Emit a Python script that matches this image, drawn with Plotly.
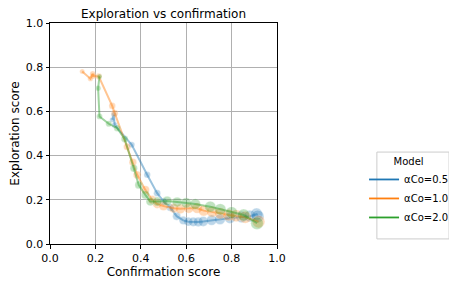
import numpy as np
import plotly.graph_objects as go

# ---- data ----
series_names = ["αCo=0.5", "αCo=1.0", "αCo=2.0"]

blue_x = [0.274, 0.281, 0.285, 0.360, 0.428, 0.472, 0.501, 0.530, 0.558, 0.587, 0.609,
          0.631, 0.653, 0.675, 0.712, 0.749, 0.793, 0.844, 0.881, 0.910, 0.915]
blue_y = [0.562, 0.585, 0.539, 0.449, 0.313, 0.230, 0.192, 0.165, 0.126, 0.107, 0.101,
          0.100, 0.100, 0.102, 0.108, 0.112, 0.118, 0.122, 0.126, 0.135, 0.125]

orange_x = [0.142, 0.178, 0.188, 0.190, 0.215, 0.274, 0.285, 0.340, 0.365, 0.384, 0.420,
            0.450, 0.472, 0.500, 0.545, 0.574, 0.611, 0.648, 0.677, 0.714, 0.750, 0.787,
            0.820, 0.860, 0.919]
orange_y = [0.781, 0.748, 0.770, 0.760, 0.758, 0.625, 0.592, 0.440, 0.370, 0.313, 0.245,
            0.200, 0.181, 0.172, 0.162, 0.159, 0.162, 0.162, 0.151, 0.146, 0.139, 0.131,
            0.128, 0.121, 0.101]

green_x = [0.218, 0.212, 0.218, 0.259, 0.296, 0.329, 0.369, 0.391, 0.420, 0.442, 0.472,
           0.516, 0.560, 0.600, 0.640, 0.706, 0.750, 0.800, 0.853, 0.912]
green_y = [0.758, 0.705, 0.577, 0.544, 0.524, 0.475, 0.343, 0.267, 0.222, 0.192, 0.192,
           0.195, 0.190, 0.186, 0.181, 0.169, 0.157, 0.142, 0.131, 0.094]

tick_vals = [0.0, 0.2, 0.4, 0.6, 0.8, 1.0]

colors = [(31, 119, 180), (255, 127, 14), (44, 160, 44)]
data = [(blue_x, blue_y), (orange_x, orange_y), (green_x, green_y)]

FONT = "DejaVu Sans"
fig = go.Figure()

for (xs, ys), (r, g, b), name in zip(data, colors, series_names):
    sizes = np.linspace(5, 12.5, len(xs))
    fig.add_trace(go.Scatter(
        x=xs, y=ys, mode="markers", showlegend=False,
        marker=dict(size=sizes, color=f"rgba({r},{g},{b},0.42)",
                    line=dict(width=0.6, color="rgba(255,255,255,0.5)")),
        hoverinfo="skip"))
    fig.add_trace(go.Scatter(
        x=xs, y=ys, mode="lines", showlegend=False,
        line=dict(color=f"rgba({r},{g},{b},0.45)", width=2)))

for (r, g, b), name in zip(colors, series_names):
    fig.add_trace(go.Scatter(
        x=[None], y=[None], mode="lines", name=name,
        line=dict(color=f"rgb({r},{g},{b})", width=1.8)))

axis_common = dict(
    range=[0, 1], tickvals=tick_vals, tickformat=".1f",
    showgrid=True, gridcolor="#b0b0b0", gridwidth=0.8,
    showline=True, linecolor="black", linewidth=1, mirror=True,
    ticks="outside", ticklen=3.5, tickcolor="black", tickwidth=0.8,
    tickfont=dict(family=FONT, size=11, color="black"),
    zeroline=False, fixedrange=True, automargin=False,
)

# page body has an 8px default margin, so the figure is 8px smaller each way
fig.update_layout(
    width=449, height=279,
    margin=dict(l=42, r=180, t=15, b=43),
    paper_bgcolor="white", plot_bgcolor="white",
    title=dict(text="Exploration vs confirmation", x=0.5, xref="paper",
               y=1, yref="paper", yanchor="bottom", pad=dict(b=5), automargin=False,
               font=dict(family=FONT, size=12, color="black")),
    xaxis=dict(axis_common, title=dict(text="Confirmation score", standoff=3,
                                       font=dict(family=FONT, size=12, color="black"))),
    yaxis=dict(axis_common, title=dict(text="Exploration score", standoff=4,
                                       font=dict(family=FONT, size=12, color="black"))),
    legend=dict(xref="container", yref="container", x=0.793, y=0.484,
                xanchor="left", yanchor="top",
                bgcolor="rgba(0,0,0,0)", borderwidth=0, itemwidth=30,
                tracegroupgap=0,
                font=dict(family=FONT, size=10, color="black"),
                title=dict(text="Model", side="top center",
                           font=dict(family=FONT, size=10, color="black"))),
    shapes=[dict(type="rect", xref="paper", yref="paper",
                 x0=1.44, x1=1.758, y0=0.023, y1=0.416,
                 line=dict(color="#cccccc", width=1), fillcolor="rgba(255,255,255,0.8)",
                 layer="below")],
)

fig.write_html("out.html")
